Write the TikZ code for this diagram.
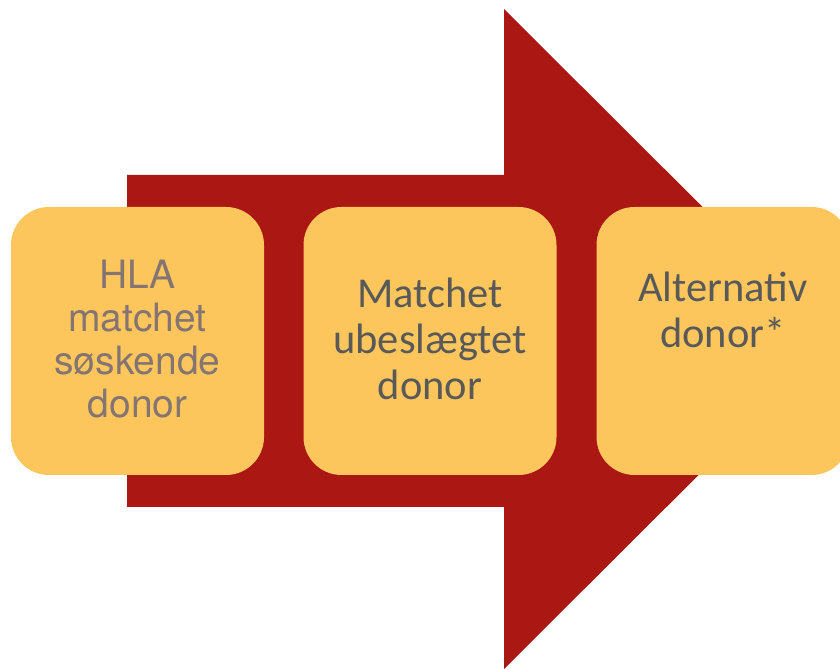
\documentclass[tikz,border=0pt]{standalone}
\usepackage{fontspec}
\newfontfamily\herosfont{TeX Gyre Heros}
\newfontfamily\carlitofont{Carlito}
\usetikzlibrary{positioning}

\definecolor{arrowred}{RGB}{171,23,19}
\definecolor{stepfill}{RGB}{253,198,92}
\definecolor{mauvetext}{RGB}{133,117,114}
\definecolor{greytext}{RGB}{89,89,89}

\begin{document}
\begin{tikzpicture}[%
        x = 1pt,
        y = 1pt,
        stepbox/.style = {
            fill = stepfill,
            rounded corners = 38pt,
            minimum width = 253pt,
            minimum height = 268pt,
            inner sep = 0pt
        },
        steptext/.style = {
            align = center,
            inner sep = 0pt,
            text = greytext,
            font = \carlitofont\fontsize{42.5}{46}\selectfont
        }
    ]

        % Page size and clipping.
        \useasboundingbox (0, 0) rectangle (840, 669);
        \clip (0, 0) rectangle (840, 669);

        % Corners of the big arrow.
        \coordinate (s1) at (127, 494);
        \coordinate (s2) at (504, 494);
        \coordinate (h1) at (504, 660);
        \coordinate (tip) at (835, 330);
        \coordinate (h2) at (504, 0);
        \coordinate (s3) at (504, 162);
        \coordinate (s4) at (127, 162);

        % Draw the arrow.
        \fill[arrowred] (s1) -- (s2) -- (h1) -- (tip) -- (h2) -- (s3) -- (s4) -- cycle;

        % The three steps.
        \node[stepbox] (sibling) at (137.5, 328) {};
        \node[stepbox] (unrelated) at (430, 328) {};
        \node[stepbox] (alternative) at (723, 328) {};

        % Labels of the steps.
        \node[steptext, text = mauvetext,
            font = \herosfont\fontsize{39}{43}\selectfont]
            (siblinglabel) at (137.5, 330) {HLA\\matchet\\søskende\\donor};
        \node[steptext] (unrelatedlabel) at (430, 330) {Matchet\\ubeslægtet\\donor};
        \node[steptext] (alternativelabel) at (723, 359) {Alternativ\\donor*};
    \end{tikzpicture}
\end{document}
